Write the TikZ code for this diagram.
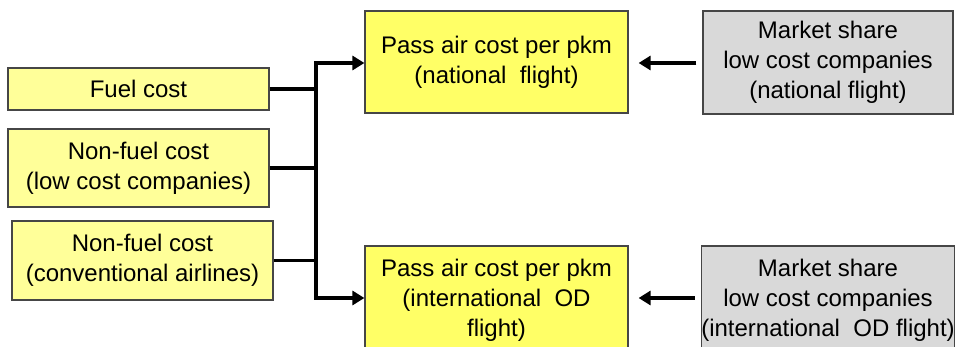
\documentclass[tikz,border=0pt]{standalone}
\usepackage{fontspec}
\setmainfont{Liberation Sans}
\usetikzlibrary{arrows.meta}
\definecolor{lightyel}{RGB}{255,255,153}
\definecolor{brightyel}{RGB}{255,255,102}
\definecolor{boxgrey}{RGB}{217,217,217}
\definecolor{edgegrey}{RGB}{70,70,70}
\tikzset{
  box/.style={draw=edgegrey, line width=1.2pt, inner sep=0pt, align=center,
    font=\fontsize{24}{30}\selectfont, text=black},
  inbox/.style={box, fill=lightyel},
  outbox/.style={box, fill=brightyel},
  msbox/.style={box, fill=boxgrey},
  conn/.style={line width=3.3pt, draw=black},
  arr/.style={conn, -{Triangle[length=12pt,width=14pt]}}
}
\begin{document}
\begin{tikzpicture}[x=1pt,y=-1pt]
\useasboundingbox (0,0) rectangle (955,347);
\clip (0,0) rectangle (955,347);
\node[inbox, minimum width=261pt, minimum height=42pt] (fuel) at (138.5,89) {Fuel cost};
\node[inbox, minimum width=261pt, minimum height=78pt] (low) at (138.5,168) {Non-fuel cost\\(low cost companies)};
\node[inbox, minimum width=261pt, minimum height=79pt] (conv) at (142.5,260.5) {Non-fuel cost\\(conventional airlines)};
\node[outbox, minimum width=263pt, minimum height=102pt] (passN) at (496.5,62) {Pass air cost per pkm\\(national\ \ flight)};
\node[outbox, minimum width=263pt, minimum height=108pt] (passI) at (496.5,300) {Pass air cost per pkm\\(international\ \ OD\\flight)};
\node[msbox, minimum width=250pt, minimum height=103pt] (msN) at (828,62.5) {Market share\\low cost companies\\(national flight)};
\node[msbox, minimum width=250pt, minimum height=108pt] (msI) at (828,300) {Market share\\low cost companies\\(international\ \ OD flight)};
\coordinate (j1) at (316,63);
\coordinate (j2) at (316,298);
\draw[conn] (fuel.east) -- (fuel.east -| j1);
\draw[conn] (low.east) -- (low.east -| j1);
\draw[conn] (conv.east) -- (conv.east -| j1);
\draw[conn, line cap=rect] (j1) -- (j2);
\draw[arr] (j1) -- (j1 -| passN.west);
\draw[arr] (j2) -- (j2 -| passI.west);
\draw[arr] ([xshift=-6pt]msN.west |- 0,63) -- ([xshift=10pt]passN.east |- 0,63);
\draw[arr] ([xshift=-6pt]msI.west |- 0,298) -- ([xshift=10pt]passI.east |- 0,298);
\end{tikzpicture}
\end{document}
